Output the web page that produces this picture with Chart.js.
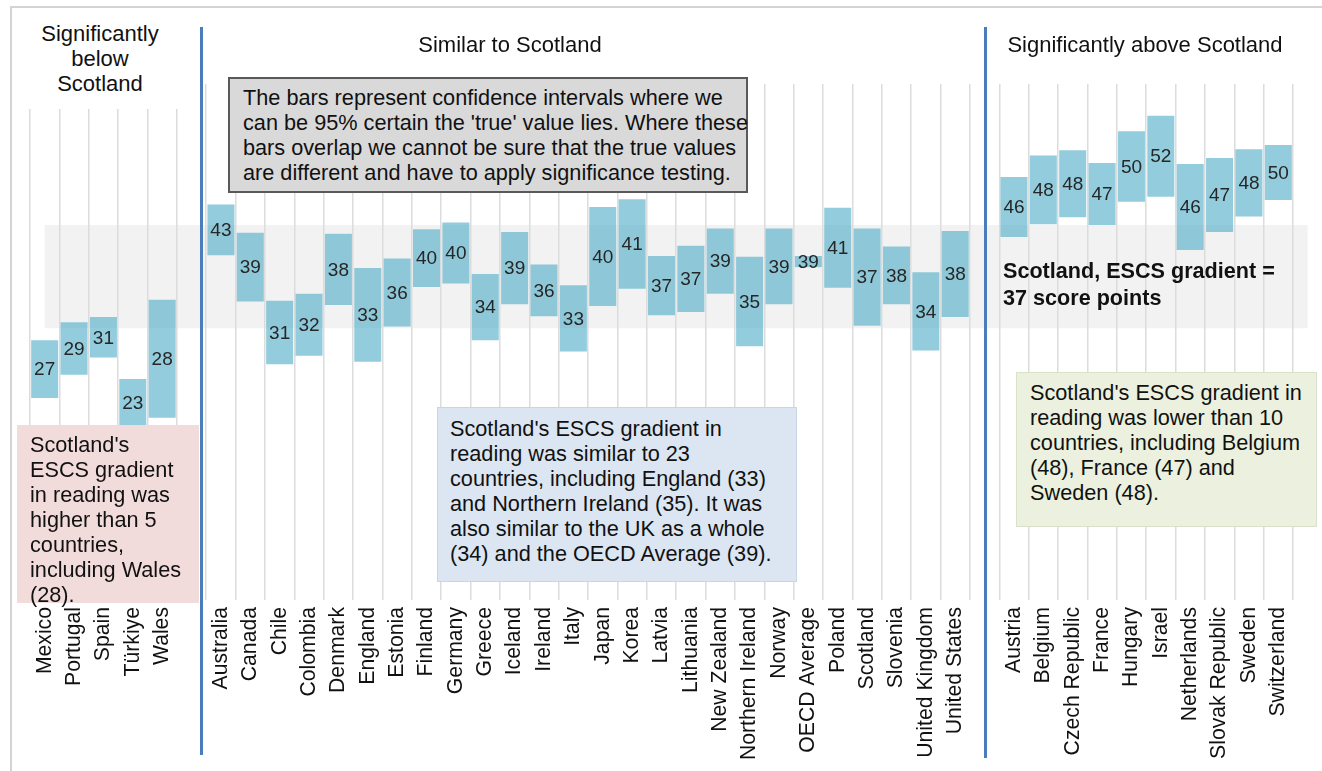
<!DOCTYPE html>
<html>
  <head>
    <meta charset="utf-8" />
    <title>ESCS gradient in reading</title>
    <style>
      body {
        margin: 0;
        background: #fff;
        font-family: "Liberation Sans", Arial, sans-serif;
      }
      .wrap {
        position: relative;
        width: 1322px;
        height: 771px;
        overflow: hidden;
      }
      canvas {
        position: absolute;
        top: 0;
        left: 0;
        z-index: 1;
      }
      .frame {
        position: absolute;
        left: 10px;
        top: 6px;
        width: 1340px;
        height: 800px;
        border: 2px solid #d4d4d4;
      }
      .sep {
        position: absolute;
        width: 3px;
        background: #4a7ebb;
        z-index: 3;
      }
      .head {
        position: absolute;
        font-size: 22px;
        line-height: 25px;
        color: #111;
        text-align: center;
        z-index: 2;
      }
      .box {
        position: absolute;
        box-sizing: border-box;
        font-size: 21.7px;
        line-height: 25px;
        color: #111;
        z-index: 2;
        white-space: nowrap;
      }
    </style>
  </head>
  <body>
    <div class="wrap">
      <div class="frame"></div>
      <canvas id="ci-chart" width="1322" height="771"></canvas>

      <div class="head" style="left:15px; top:21px; width:170px; height:88px; background:#fff">
        Significantly<br />below<br />Scotland
      </div>
      <div class="head" style="left:360px; top:32px; width:300px">Similar to Scotland</div>
      <div class="head" style="left:995px; top:32px; width:300px">Significantly above Scotland</div>

      <div class="sep" style="left:200px; top:27px; height:728px"></div>
      <div class="sep" style="left:984px; top:27px; height:731px"></div>

      <div class="box" style="left:228px; top:77px; width:520px; height:116px; background:#d9d9d9; border:2px solid #595959; padding:6px 0 0 13px">
        The bars represent confidence intervals where we<br />
        can be 95% certain the 'true' value lies. Where these<br />
        bars overlap we cannot be sure that the true values<br />
        are different and have to apply significance testing.
      </div>

      <div class="box" style="left:17px; top:425px; width:182px; height:178px; background:#f2dcdb; padding:7px 0 0 13px">
        Scotland's<br />ESCS gradient<br />in reading was<br />higher than 5<br />countries,<br />including Wales<br />(28).
      </div>

      <div class="box" style="left:437px; top:407px; width:360px; height:175px; background:#dce6f2; border:1px solid #c9d5e4; padding:8px 0 0 12px">
        Scotland's ESCS gradient in<br />
        reading was similar to 23<br />
        countries, including England (33)<br />
        and Northern Ireland (35). It was<br />
        also similar to the UK as a whole<br />
        (34) and the OECD Average (39).
      </div>

      <div class="box" style="left:1016px; top:372px; width:301px; height:155px; background:#ebf1de; border:1px solid #d9e2c8; padding:7px 0 0 13px">
        Scotland's ESCS gradient in<br />
        reading was lower than 10<br />
        countries, including Belgium<br />
        (48), France (47) and<br />
        Sweden (48).
      </div>

      <div class="box" style="left:1003px; top:257px; font-weight:bold; font-size:21.6px; line-height:27px">
        Scotland, ESCS gradient =<br />37 score points
      </div>
    </div>

    <script src="https://cdn.jsdelivr.net/npm/chart.js"></script>
    <script>
      // Significantly below Scotland
      var belowCountries = ["Mexico", "Portugal", "Spain", "Türkiye", "Wales"]
      var belowEst = [27, 29, 31, 23, 28]
      var belowLow = [23.5, 26.2, 28.2, 20.2, 21.2]
      var belowHigh = [30.2, 32.3, 32.9, 25.7, 34.9]

      // Similar to Scotland
      var similarCountries = [
        "Australia", "Canada", "Chile", "Colombia", "Denmark", "England",
        "Estonia", "Finland", "Germany", "Greece", "Iceland", "Ireland",
        "Italy", "Japan", "Korea", "Latvia", "Lithuania", "New Zealand",
        "Northern Ireland", "Norway", "OECD Average", "Poland", "Scotland",
        "Slovenia", "United Kingdom", "United States",
      ]
      var similarEst = [43, 39, 31, 32, 38, 33, 36, 40, 40, 34, 39, 36, 33, 40, 41, 37, 37, 39, 35, 39, 39, 41, 37, 38, 34, 38]
      var similarLow = [40.1, 34.7, 27.4, 28.4, 34.3, 27.7, 31.8, 36.4, 36.8, 30.2, 34.4, 33.0, 28.9, 34.2, 36.2, 33.1, 33.5, 35.6, 29.5, 34.4, 38.7, 36.3, 31.9, 34.4, 29.0, 32.9]
      var similarHigh = [46.0, 42.7, 34.8, 35.6, 42.6, 38.6, 39.7, 43.1, 43.9, 37.9, 42.8, 39.0, 36.6, 45.7, 46.6, 40.0, 41.2, 43.2, 39.9, 43.2, 40.0, 45.6, 43.2, 41.1, 38.1, 42.9]

      // Significantly above Scotland
      var aboveCountries = [
        "Austria", "Belgium", "Czech Republic", "France", "Hungary",
        "Israel", "Netherlands", "Slovak Republic", "Sweden", "Switzerland",
      ]
      var aboveEst = [46, 48, 48, 47, 50, 52, 46, 47, 48, 50]
      var aboveLow = [42.2, 43.7, 44.5, 43.6, 46.3, 46.9, 40.7, 42.8, 44.6, 46.5]
      var aboveHigh = [49.2, 51.7, 52.3, 50.8, 54.5, 56.3, 50.7, 51.4, 52.4, 52.9]

      // Scotland's confidence band (grey strip)
      var scotlandBand = [31.6, 43.6]

      // join the three groups with an empty slot between them
      var labels = [], ranges = [], estimates = []
      function addGroup(names, est, lo, hi) {
        names.forEach(function (n, i) {
          labels.push(n)
          ranges.push([lo[i], hi[i]])
          estimates.push(est[i])
        })
      }
      function addGap() {
        labels.push("")
        ranges.push(null)
        estimates.push(null)
      }
      addGroup(belowCountries, belowEst, belowLow, belowHigh)
      addGap()
      addGroup(similarCountries, similarEst, similarLow, similarHigh)
      addGap()
      addGroup(aboveCountries, aboveEst, aboveLow, aboveHigh)

      var bandPlugin = {
        id: "band",
        beforeDraw: function (chart) {
          var x = chart.scales.x, y = chart.scales.y, ctx = chart.ctx
          var step = x.getPixelForValue(1) - x.getPixelForValue(0)
          var left = x.getPixelForValue(0)
          var right = x.getPixelForValue(labels.length - 1) + step
          var top = y.getPixelForValue(scotlandBand[1])
          var bottom = y.getPixelForValue(scotlandBand[0])
          ctx.save()
          ctx.fillStyle = "#f2f2f2"
          ctx.fillRect(left, top, right - left, bottom - top)
          ctx.restore()
        },
      }

      var valuePlugin = {
        id: "values",
        afterDatasetsDraw: function (chart) {
          var ctx = chart.ctx
          var meta = chart.getDatasetMeta(0)
          ctx.save()
          ctx.font = '19px "Liberation Sans", Arial, sans-serif'
          ctx.fillStyle = "#262626"
          ctx.textAlign = "center"
          ctx.textBaseline = "middle"
          meta.data.forEach(function (bar, i) {
            if (estimates[i] == null) return
            ctx.fillText(estimates[i], bar.x, (bar.y + bar.base) / 2 + 1)
          })
          ctx.restore()
        },
      }

      var config = {
        type: "bar",
        data: {
          labels: labels,
          datasets: [
            {
              data: ranges,
              backgroundColor: "rgba(75, 172, 198, 0.6)",
              borderWidth: 0,
              barPercentage: 0.92,
              categoryPercentage: 1,
            },
          ],
        },
        options: {
          responsive: false,
          animation: false,
          layout: { padding: { left: 30, right: 29, top: 84, bottom: 0 } },
          plugins: { legend: { display: false }, tooltip: { enabled: false } },
          scales: {
            x: {
              grid: { offset: true, color: "#dcdcdc", lineWidth: 1.5, drawTicks: false },
              border: { display: false },
              ticks: {
                minRotation: 90,
                maxRotation: 90,
                autoSkip: false,
                padding: 7,
                color: "#111",
                font: { family: '"Liberation Sans", Arial, sans-serif', size: 21.2 },
              },
              afterFit: function (scale) {
                scale.height = 171
              },
            },
            y: { display: false, min: 0, max: 60 },
          },
        },
        plugins: [bandPlugin, valuePlugin],
      }

      var ctx = document.getElementById("ci-chart").getContext("2d")
      new Chart(ctx, config)
    </script>
  </body>
</html>
